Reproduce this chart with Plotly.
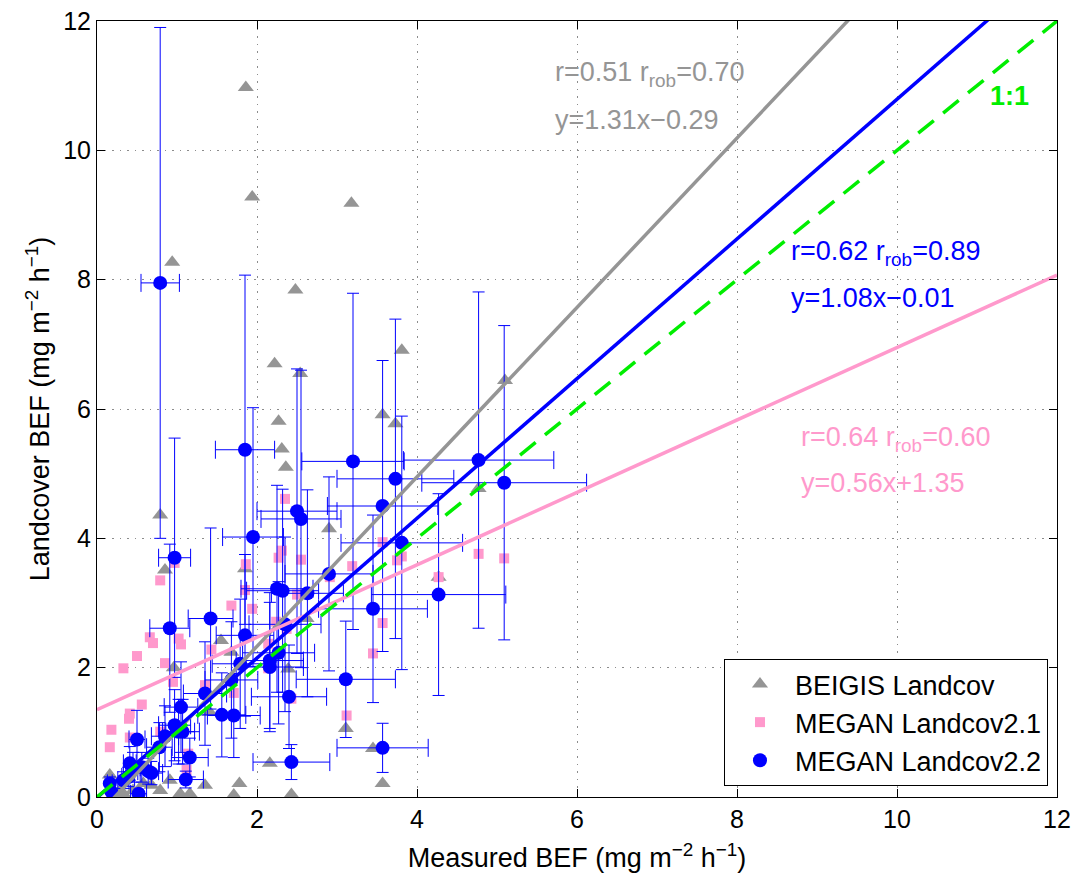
import plotly.graph_objects as go

# ---------------- data ----------------
beigis_x = [1.86, 1.94, 3.18, 0.94, 2.48, 3.81, 2.22, 2.54, 5.10, 3.57, 2.27, 3.73, 2.31, 2.36,
            4.77, 0.79, 2.90, 0.85, 1.85, 4.27, 2.62, 1.55, 1.68, 0.96, 2.39, 1.41, 3.11, 3.45,
            2.16, 0.16, 0.91, 1.78, 3.57, 0.58, 1.35, 0.68, 0.45, 0.29, 0.79, 0.33, 1.04, 1.16,
            1.71, 2.43]
beigis_y = [10.97, 9.28, 9.18, 8.27, 7.84, 6.91, 6.70, 6.55, 6.44, 5.91, 5.81, 5.77, 5.38, 5.10,
            4.77, 4.36, 4.15, 3.51, 3.53, 3.40, 2.76, 2.42, 2.24, 2.00, 1.98, 1.31, 1.06, 0.75,
            0.52, 0.34, 0.26, 0.21, 0.21, 0.21, 0.18, 0.18, 0.10, 0.10, 0.10, 0.05, 0.05, 0.05,
            0.03, 0.04]

megan21_x = [0.79, 0.66, 0.70, 0.50, 0.33, 0.85, 1.02, 1.05, 0.95, 0.56, 0.41, 0.40, 0.18, 0.16,
             0.41, 0.79, 1.12, 1.14, 1.35, 1.71, 1.68, 1.85, 1.94, 1.86, 2.27, 2.31, 2.55, 2.14,
             1.43, 2.14, 2.50, 2.91, 3.12, 2.35, 3.57, 3.19, 3.75, 3.81, 4.77, 5.09, 4.27, 3.57,
             3.45, 2.24, 2.37, 2.43, 0.97]
megan21_y = [3.35, 2.47, 2.38, 2.18, 1.99, 2.07, 2.45, 2.36, 1.78, 1.43, 1.29, 1.21, 1.04, 0.77,
             0.92, 1.01, 0.42, 0.67, 1.73, 1.61, 2.96, 3.20, 2.91, 3.60, 3.70, 3.81, 3.67, 2.37,
             2.28, 1.99, 3.13, 3.40, 1.26, 4.61, 3.94, 3.57, 3.66, 3.72, 3.76, 3.69, 3.40, 2.69,
             2.22, 2.71, 2.60, 1.52, 3.62]

megan22_x = [0.79, 1.85, 3.20, 4.77, 5.09, 3.73, 3.57, 2.50, 2.55, 1.95, 0.97, 3.81, 2.90, 2.25,
             2.32, 2.63, 4.27, 3.45, 1.42, 0.91, 2.35, 1.85, 2.27, 2.16, 2.16, 1.79, 1.68, 3.11,
             1.35, 2.40, 1.05, 1.56, 1.71, 0.97, 1.02, 1.07, 0.85, 0.50, 0.78, 3.57, 1.16, 2.43,
             0.41, 0.45, 0.56, 0.64, 0.68, 0.39, 0.33, 1.11, 0.16, 0.18, 0.52]
megan22_y = [7.95, 5.37, 5.19, 5.21, 4.86, 4.92, 4.50, 4.42, 4.30, 4.02, 3.70, 3.93, 3.45, 3.22,
             3.19, 3.15, 3.13, 2.91, 2.76, 2.61, 2.67, 2.50, 2.23, 2.11, 2.01, 2.06, 1.81, 1.82,
             1.60, 1.55, 1.39, 1.27, 1.26, 1.11, 1.01, 1.01, 0.94, 0.89, 0.77, 0.76, 0.61, 0.54,
             0.52, 0.46, 0.46, 0.40, 0.37, 0.31, 0.26, 0.27, 0.21, 0.08, 0.05]
megan22_xerr = [0.24, 0.37, 0.64, 0.94, 1.03, 0.73, 0.69, 0.50, 0.50, 0.38, 0.20, 0.76, 0.55, 0.45,
                0.45, 0.45, 0.84, 0.68, 0.28, 0.25, 0.45, 0.36, 0.45, 0.42, 0.42, 0.35, 0.33, 0.62,
                0.27, 0.47, 0.21, 0.30, 0.33, 0.20, 0.20, 0.21, 0.17, 0.10, 0.16, 0.57, 0.23, 0.48,
                0.08, 0.09, 0.11, 0.13, 0.14, 0.08, 0.07, 0.22, 0.03, 0.04, 0.10]
megan22_yerr = [3.95, 2.70, 2.60, 2.60, 2.43, 2.47, 2.25, 2.20, 2.30, 2.00, 1.85, 1.96, 1.50, 1.60,
                1.57, 1.60, 1.56, 1.45, 1.40, 1.30, 1.35, 1.25, 1.10, 1.05, 1.00, 1.00, 0.90, 0.90,
                0.80, 0.80, 0.70, 0.65, 0.65, 0.55, 0.50, 0.50, 0.47, 0.45, 0.38, 0.38, 0.30, 0.27,
                0.26, 0.23, 0.23, 0.20, 0.18, 0.15, 0.13, 0.13, 0.10, 0.04, 0.03]

# regression fits shown on the chart: (slope, intercept)
fit_names = ["BEIGIS", "MEGAN2.1", "MEGAN2.2", "1:1"]
fit_slopes = [1.31, 0.56, 1.08, 1.0]
fit_intercepts = [-0.29, 1.35, -0.01, 0.0]
axis_limits = [0, 12]

# ---------------- styling ----------------
FONT = "Liberation Sans, Arial, Helvetica, sans-serif"
GRAY = "#959595"
PINK = "#ff99cc"
BLUE = "#0000ff"
GREEN = "#00ee00"

fig = go.Figure()

fig.add_trace(go.Scatter(
    x=beigis_x, y=beigis_y, mode="markers", name="BEIGIS Landcov",
    marker=dict(symbol="triangle-up", size=14, color=GRAY, line=dict(width=0)),
))
fig.add_trace(go.Scatter(
    x=megan21_x, y=megan21_y, mode="markers", name="MEGAN Landcov2.1",
    marker=dict(symbol="square", size=10, color=PINK, line=dict(width=0)),
))
fig.add_trace(go.Scatter(
    x=megan22_x, y=megan22_y, mode="markers", name="MEGAN Landcov2.2",
    marker=dict(symbol="circle", size=14, color=BLUE, line=dict(width=0)),
    error_x=dict(type="data", array=megan22_xerr, symmetric=True, color=BLUE, thickness=1, width=9),
    error_y=dict(type="data", array=megan22_yerr, symmetric=True, color=BLUE, thickness=1, width=6),
))

line_styles = [
    dict(color=GRAY, width=3.5),
    dict(color=PINK, width=3.5),
    dict(color=BLUE, width=3.5),
    dict(color=GREEN, width=3.5, dash="20px,12px"),
]
for name, m, b, st in zip(fit_names, fit_slopes, fit_intercepts, line_styles):
    xs = list(axis_limits)
    ys = [m * v + b for v in xs]
    fig.add_trace(go.Scatter(x=xs, y=ys, mode="lines", line=st, showlegend=False,
                             hoverinfo="skip", name=name))

ann_size = 27
annotations = [
    dict(x=5.70, y=11.18, text="r=0.51 r<sub>rob</sub>=0.70", color=GRAY),
    dict(x=5.70, y=10.47, text="y=1.31x\u22120.29", color=GRAY),
    dict(x=8.65, y=8.42, text="r=0.62 r<sub>rob</sub>=0.89", color=BLUE),
    dict(x=8.65, y=7.72, text="y=1.08x\u22120.01", color=BLUE),
    dict(x=8.78, y=5.53, text="r=0.64 r<sub>rob</sub>=0.60", color=PINK),
    dict(x=8.78, y=4.85, text="y=0.56x+1.35", color=PINK),
    dict(x=11.14, y=10.84, text="<b>1:1</b>", color=GREEN),
]
fig.update_layout(annotations=[
    dict(x=a["x"], y=a["y"], xref="x", yref="y", text=a["text"], showarrow=False,
         xanchor="left", yanchor="middle",
         font=dict(family=FONT, size=ann_size, color=a["color"]))
    for a in annotations
])

axis_common = dict(
    range=axis_limits, dtick=2, tick0=0, automargin=False, ticklabeloverflow="allow",
    ticks="inside", ticklen=8, tickwidth=1, tickcolor="black",
    showline=True, linecolor="black", linewidth=1, mirror="ticks",
    showgrid=True, gridcolor="#8c8c8c", gridwidth=1, griddash="1.5px,6px",
    zeroline=False,
    tickfont=dict(family=FONT, size=25, color="black"),
)

# the page body adds an 8px offset; margins compensate so the plot area sits at 97..1057 x 21..797
fig.update_layout(
    width=1071, height=871,
    margin=dict(l=89, r=22, t=13, b=82),
    paper_bgcolor="white", plot_bgcolor="white",
    font=dict(family=FONT, color="black"),
    xaxis=dict(**axis_common,
               title=dict(text="Measured BEF (mg m<sup>\u22122</sup> h<sup>\u22121</sup>)",
                          font=dict(family=FONT, size=27, color="black"), standoff=16)),
    yaxis=dict(**axis_common,
               title=dict(text="Landcover BEF (mg m<sup>\u22122</sup> h<sup>\u22121</sup>)",
                          font=dict(family=FONT, size=27, color="black"), standoff=5)),
    legend=dict(x=0.9906, y=0.0142, xanchor="right", yanchor="bottom",
                bgcolor="white", bordercolor="black", borderwidth=1, itemwidth=60,
                font=dict(family=FONT, size=27, color="black")),
    showlegend=True,
)

fig.write_html("out.html")
